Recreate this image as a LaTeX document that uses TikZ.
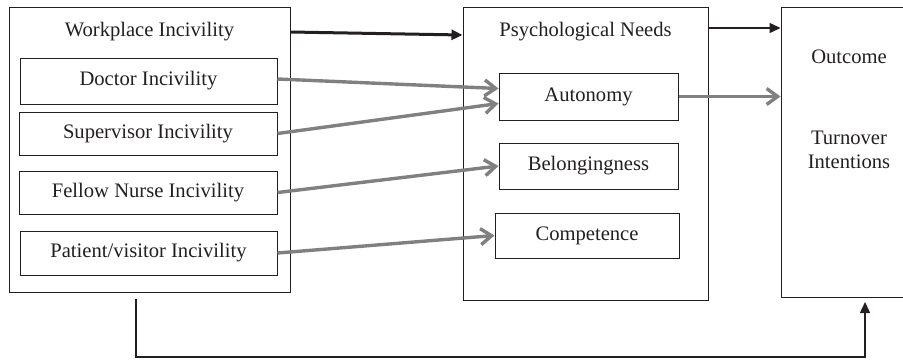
\documentclass[tikz,border=0pt]{standalone}
\usepackage{fontspec}
\setmainfont{Liberation Serif}
\usepackage{tikz}
\usetikzlibrary{arrows,arrows.meta}
\definecolor{xink}{RGB}{35,31,32}
\definecolor{xgray}{RGB}{128,128,128}

\begin{document}
\begin{tikzpicture}[x=0.5pt,y=-0.5pt,->,>=stealth',font=\fontsize{10.3}{12}\selectfont,text=xink]
\tikzset{bigbox/.style={draw=xink,line width=0.5pt,inner sep=0pt}}
\tikzset{subbox/.style={draw=xink,line width=0.5pt,inner sep=0pt,minimum height=22pt}}
\tikzset{grayarr/.style={draw=xgray,line width=1.7pt,-{Straight Barb[length=5.5pt,width=8pt]}}}
\tikzset{blackarr/.style={draw=xink,-{Triangle[length=5.5pt,width=5pt]}}}
\useasboundingbox (0,0) rectangle (903,360);
% workplace incivility
\node[bigbox,minimum width=140.5pt,minimum height=142.5pt] at (149.5,149.5) (wbox) {};
\node at (149.5,32) (wtitle) {Workplace Incivility};
\node[subbox,minimum width=128.5pt,minimum height=23pt] at (148.5,81) (doc) {Doctor Incivility};
\node[subbox,minimum width=129pt,minimum height=21.5pt] at (148,133.5) (sup) {Supervisor Incivility};
\node[subbox,minimum width=129pt,minimum height=21.5pt] at (148,192.5) (fel) {Fellow Nurse Incivility};
\node[subbox,minimum width=128.5pt,minimum height=22pt] at (148.5,253) (pat) {Patient/visitor Incivility};
% psychological needs
\node[bigbox,minimum width=122.5pt,minimum height=146.5pt] at (585.5,153.5) (pbox) {};
\node at (585.5,32) (ptitle) {Psychological Needs};
\node[subbox,minimum width=89.5pt,minimum height=23.5pt] at (588.5,96.5) (auton) {Autonomy};
\node[subbox,minimum width=89.5pt,minimum height=23pt] at (588.5,166) (belong) {Belongingness};
\node[subbox,minimum width=92pt,minimum height=22.5pt] at (587,235.5) (compet) {Competence};
% outcome
\node[bigbox,minimum width=68pt,minimum height=145pt] at (849,152) (obox) {};
\node at (849,57) (otitle) {Outcome};
\node[align=center] at (849,150) (turn) {Turnover\\Intentions};
% connectors
\draw[blackarr,line width=1.5pt] (wtitle -| wbox.east) -- ([yshift=-1.5pt]wtitle -| pbox.west);
\draw[blackarr,line width=0.75pt] ([yshift=2pt]ptitle -| pbox.east) -- ([yshift=2pt]ptitle -| obox.west);
\draw[grayarr] ([yshift=1pt]doc.east) -- ([yshift=4pt]auton.west);
\draw[grayarr] (sup.east) -- ([yshift=-3.5pt]auton.west);
\draw[grayarr] (fel.east) -- (belong.west);
\draw[grayarr] (pat.east) -- (compet.west);
\draw[grayarr] (auton.east) -- (auton -| obox.west);
\coordinate (bstart) at (136,299);
\coordinate (bturn) at (136,357);
\coordinate (bend) at (865,302);
\draw[blackarr,line width=0.75pt] (bstart) -- (bturn) -| (bend);
\end{tikzpicture}
\end{document}
